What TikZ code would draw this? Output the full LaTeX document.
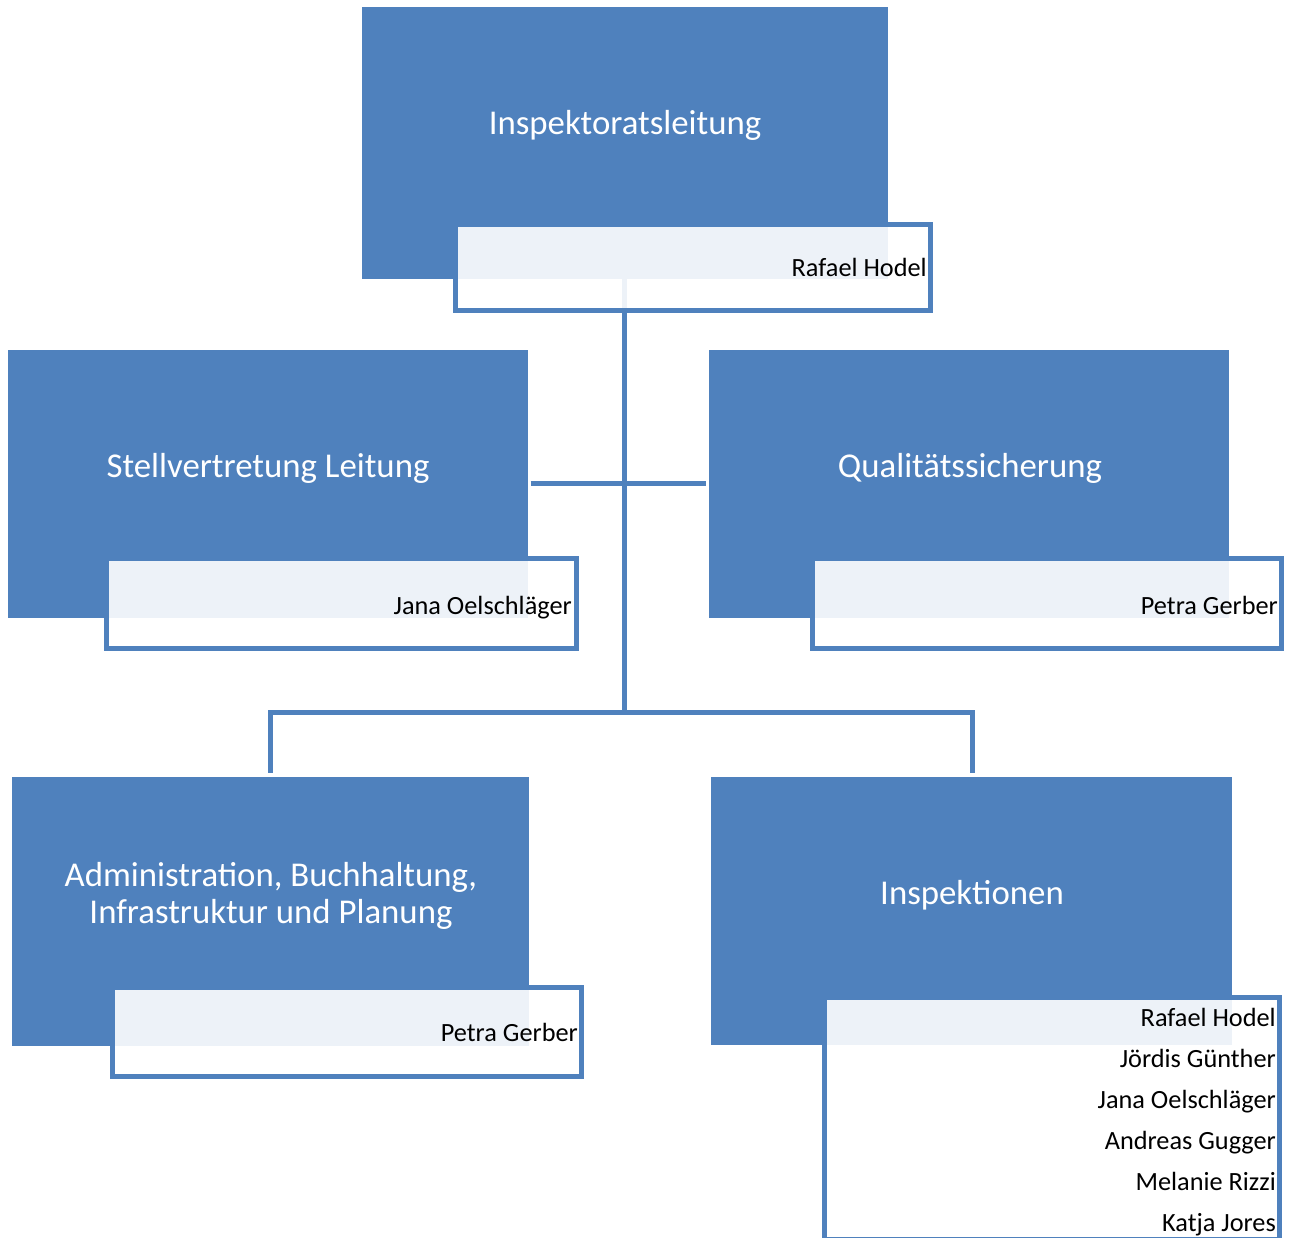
\documentclass[tikz,border=0pt]{standalone}
\usepackage{fontspec}
\setmainfont{Carlito}
\definecolor{obl}{HTML}{4F81BD}
\tikzset{
  unitbox/.style={fill=obl, draw=obl, line width=1pt, inner sep=0pt},
  namebox/.style={fill=white, fill opacity=0.9, draw=obl, draw opacity=1, line width=5.5pt, inner sep=0pt},
  conn/.style={draw=obl, line width=5pt},
  title/.style={text=white, font=\fontsize{34.8}{38}\selectfont, inner sep=0pt, align=center},
  person/.style={text=black, font=\fontsize{26.3}{30}\selectfont, inner sep=0pt, anchor=base east},
}
\begin{document}
\begin{tikzpicture}[x=1pt,y=-1pt]
\useasboundingbox (0,0) rectangle (1295,1237);
% main boxes
\node[unitbox, minimum width=525, minimum height=271] (top) at (624.5,142.5) {};
\node[unitbox, minimum width=519, minimum height=267] (stv) at (267.5,483.5) {};
\node[unitbox, minimum width=519, minimum height=267] (qs) at (968.5,483.5) {};
\node[unitbox, minimum width=516, minimum height=268] (adm) at (270,911) {};
\node[unitbox, minimum width=520, minimum height=267] (insp) at (971,910.5) {};
% connectors
\coordinate (j1) at (624,712);
\coordinate (jl) at (270,712);
\coordinate (jr) at (972,712);
\draw[conn] (top.south -| j1) -- (j1);
\draw[conn] ([xshift=3pt]stv.east) -- ([xshift=-3pt]qs.west);
\draw[conn] ([yshift=4pt]jl |- adm.north) -- (jl) -- (jr) -- ([yshift=4pt]jr |- insp.north);
% name boxes
\node[namebox, minimum width=475, minimum height=86] (topn) at (693,267.5) {};
\node[namebox, minimum width=470, minimum height=90] (stvn) at (341.5,603.5) {};
\node[namebox, minimum width=469, minimum height=90] (qsn) at (1047,603.5) {};
\node[namebox, minimum width=469, minimum height=89] (admn) at (347,1032) {};
\node[namebox, minimum width=455, minimum height=242] (inspn) at (1052,1118.5) {};
% titles
\node[title, anchor=base] (topt) at (625,134) {Inspektoratsleitung};
\node[title, anchor=base] (stvt) at (268,477) {Stellvertretung Leitung};
\node[title, anchor=base] (qst) at (970,477) {Qualitätssicherung};
\node[title, anchor=base] (admt1) at (271,886) {Administration, Buchhaltung,};
\node[title, anchor=base] (admt2) at (271,923) {Infrastruktur und Planung};
\node[title, anchor=base] (inspt) at (972,904) {Inspektionen};
% persons
\node[person] (p1) at (927,276) {Rafael Hodel};
\node[person] (p2) at (572,614) {Jana Oelschläger};
\node[person] (p3) at (1278,614) {Petra Gerber};
\node[person] (p4) at (578,1041) {Petra Gerber};
\node[person] (i1) at (1276,1026) {Rafael Hodel};
\node[person] (i2) at (1276,1067) {Jördis Günther};
\node[person] (i3) at (1276,1108) {Jana Oelschläger};
\node[person] (i4) at (1276,1149) {Andreas Gugger};
\node[person] (i5) at (1276,1190) {Melanie Rizzi};
\node[person] (i6) at (1276,1231) {Katja Jores};
\end{tikzpicture}
\end{document}
